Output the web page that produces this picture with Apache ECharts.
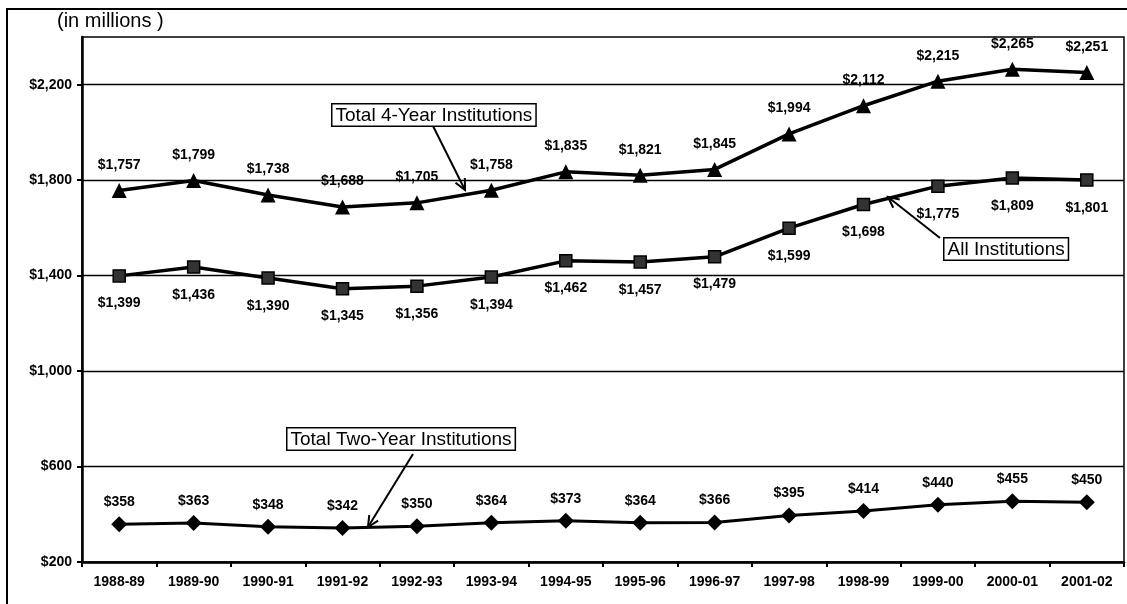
<!DOCTYPE html>
<html>
<head>
    <meta charset="utf-8" />
    <title>Institutions (in millions)</title>
    <style type="text/css">
        * { margin: 0; padding: 0 }
        html, body { width: 100%; height: 100%; background: #fff; }
        #chart { width: 1127px; height: 604px; }
    </style>
</head>
<body>
    <div id="chart"></div>
    <script src="https://cdn.jsdelivr.net/npm/echarts@6/dist/echarts.min.js"></script>
    <script>
        const years = ['1988-89', '1989-90', '1990-91', '1991-92', '1992-93', '1993-94', '1994-95',
            '1995-96', '1996-97', '1997-98', '1998-99', '1999-00', '2000-01', '2001-02'];
        const fourYear = [1757, 1799, 1738, 1688, 1705, 1758, 1835, 1821, 1845, 1994, 2112, 2215, 2265, 2251];
        const allInst = [1399, 1436, 1390, 1345, 1356, 1394, 1462, 1457, 1479, 1599, 1698, 1775, 1809, 1801];
        const twoYear = [358, 363, 348, 342, 350, 364, 373, 364, 366, 395, 414, 440, 455, 450];
        const yTicks = [200, 600, 1000, 1400, 1800, 2200];

        const FONT = "'Liberation Sans', Arial, sans-serif";
        const money = v => '$' + Number(v).toLocaleString('en-US');

        // 注释框 + 箭头
        const callout = (text, x, y, from, to) => {
            const [x1, y1] = from, [x2, y2] = to;
            const ang = Math.atan2(y2 - y1, x2 - x1);
            const len = 12, spread = 0.45;
            const head = [
                [x2 - len * Math.cos(ang - spread), y2 - len * Math.sin(ang - spread)],
                [x2, y2],
                [x2 - len * Math.cos(ang + spread), y2 - len * Math.sin(ang + spread)]
            ];
            return [
                { type: 'line', shape: { x1, y1, x2, y2 }, style: { stroke: '#000', lineWidth: 2 }, z: 100 },
                { type: 'polyline', shape: { points: head }, style: { stroke: '#000', lineWidth: 2, fill: null }, z: 100 },
                {
                    type: 'text', left: x, top: y, z: 101,
                    style: {
                        text: text, font: '19px ' + FONT, fill: '#000',
                        backgroundColor: '#fff', borderColor: '#000', borderWidth: 1.5,
                        padding: [2, 3, 0, 3]
                    }
                }
            ];
        };

        const labelStyle = {
            show: true, color: '#000', fontFamily: FONT, fontSize: 14, fontWeight: 'bold',
            formatter: p => money(p.value)
        };

        const chart = echarts.init(document.getElementById('chart'));
        chart.setOption({
            animation: false,
            backgroundColor: '#fff',
            grid: { left: 82, top: 37, right: 3, bottom: 42, show: true, borderColor: '#000', borderWidth: 1.5 },
            xAxis: {
                type: 'category', data: years, boundaryGap: true,
                axisLine: { lineStyle: { color: '#000', width: 2.5 } },
                axisTick: { show: true, length: 5, lineStyle: { color: '#000', width: 2 } },
                axisLabel: { color: '#000', fontFamily: FONT, fontSize: 14, fontWeight: 'bold', margin: 13 }
            },
            yAxis: {
                type: 'value', min: 200, max: 2400,
                axisLine: { show: true, lineStyle: { color: '#000', width: 2.5 } },
                axisTick: { show: true, length: 5, customValues: yTicks, lineStyle: { color: '#000', width: 2 } },
                splitLine: { show: true, lineStyle: { color: '#000', width: 1.3 } },
                axisLabel: {
                    customValues: yTicks, color: '#000', fontFamily: FONT, fontSize: 14, fontWeight: 'bold',
                    margin: 10, formatter: v => money(v)
                }
            },
            series: [
                {
                    name: 'Total 4-Year Institutions', type: 'line', data: fourYear,
                    symbol: 'triangle', symbolSize: 15,
                    lineStyle: { color: '#000', width: 3.5 }, itemStyle: { color: '#000' },
                    label: Object.assign({ position: 'top', distance: 11 }, labelStyle)
                },
                {
                    name: 'All Institutions', type: 'line', data: allInst,
                    symbol: 'rect', symbolSize: 12,
                    lineStyle: { color: '#000', width: 3.5 }, itemStyle: { color: '#333', borderColor: '#000', borderWidth: 1.5 },
                    label: Object.assign({ position: 'bottom', distance: 14 }, labelStyle)
                },
                {
                    name: 'Total Two-Year Institutions', type: 'line', data: twoYear,
                    symbol: 'diamond', symbolSize: 16,
                    lineStyle: { color: '#000', width: 3 }, itemStyle: { color: '#000' },
                    label: Object.assign({ position: 'top', distance: 7 }, labelStyle)
                }
            ],
            graphic: [
                {
                    type: 'rect', z: -1, silent: true,
                    shape: { x: 7, y: 9, width: 1140, height: 620 },
                    style: { fill: null, stroke: '#000', lineWidth: 2 }
                },
                {
                    type: 'text', left: 57, top: 11,
                    style: { text: '(in millions )', font: '20px ' + FONT, fill: '#000' }
                },
                ...callout('Total 4-Year Institutions', 331, 103, [433, 126], [465, 190]),
                ...callout('All Institutions', 943, 237, [940, 238], [888, 197]),
                ...callout('Total Two-Year Institutions', 286, 427, [413, 454], [368, 527])
            ]
        });
    </script>
</body>
</html>
